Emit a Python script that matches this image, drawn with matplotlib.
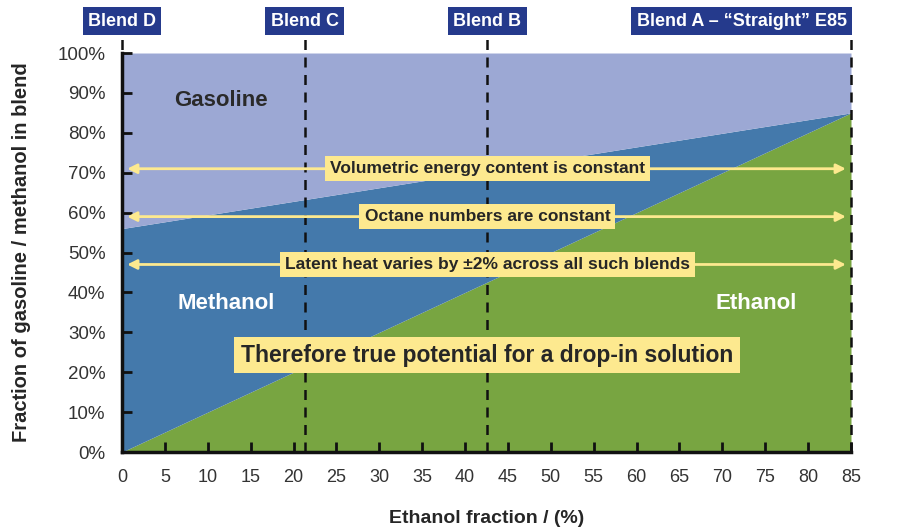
import matplotlib
matplotlib.use("Agg")
import matplotlib.pyplot as plt
import numpy as np

plt.rcParams['font.family'] = ['Liberation Sans', 'DejaVu Sans']

# ---- data ----
ethanol_x = [0, 85]
ethanol_top = [0, 85]          # ethanol share (%) -> top of green area
methanol_top = [56, 85]        # top of methanol area (%)
gasoline_top = [100, 100]
x_ticks = list(range(0, 90, 5))
y_ticks = list(range(0, 110, 10))
blend_names = ["Blend D", "Blend C", "Blend B", "Blend A – “Straight” E85"]
blend_pos = [0, 21.3, 42.6, 85]
arrow_levels = [71, 59, 47]
arrow_texts = ["Volumetric energy content is constant",
               "Octane numbers are constant",
               "Latent heat varies by ±2% across all such blends"]

C_GAS = "#9ca8d4"
C_MET = "#4479ab"
C_ETH = "#78a541"
C_NAVY = "#253a8c"
C_YEL = "#fde98f"
C_TXT = "#262626"

fig = plt.figure(figsize=(9.06, 5.27), dpi=100)
ax = fig.add_axes([0.1347, 0.1423, 0.8046, 0.7571])

x = np.array(ethanol_x)
ax.fill_between(x, 0, ethanol_top, color=C_ETH, lw=0)
ax.fill_between(x, ethanol_top, methanol_top, color=C_MET, lw=0)
ax.fill_between(x, methanol_top, gasoline_top, color=C_GAS, lw=0)

ax.set_xlim(0, 85)
ax.set_ylim(0, 100)
ax.set_xticks(x_ticks)
ax.set_xticklabels([str(v) for v in x_ticks], fontsize=13)
ax.set_yticks(y_ticks)
ax.set_yticklabels([f"{v}%" for v in y_ticks], fontsize=13.5)
ax.tick_params(axis="both", direction="in", length=7, width=2, colors="#111111", labelcolor="#333333")
ax.tick_params(axis="x", pad=12)
ax.tick_params(axis="y", pad=12)
for s in ["top", "right"]:
    ax.spines[s].set_visible(False)
for s in ["left", "bottom"]:
    ax.spines[s].set_linewidth(2.5)
    ax.spines[s].set_color("#111111")

ax.set_xlabel("Ethanol fraction / (%)", fontsize=14, fontweight="bold", color=C_TXT)
ax.xaxis.set_label_coords(0.5, -0.145)
ax.set_ylabel("Fraction of gasoline / methanol in blend", fontsize=14.5, fontweight="bold", color=C_TXT)
ax.yaxis.set_label_coords(-0.125, 0.5)

# blend lines & labels
for name, p in zip(blend_names, blend_pos):
    ax.axvline(p, ymin=0, ymax=1.04, color="#111111", lw=1.8, ls=(0, (4, 3)), clip_on=False, zorder=3)
    last = p == max(blend_pos)
    ax.annotate(name, xy=(p, 1.08), xycoords=ax.get_xaxis_transform(),
                xytext=(-3 if last else 0, 0), textcoords="offset points",
                ha="right" if last else "center", va="center",
                fontsize=13, fontweight="bold", color="white",
                bbox=dict(boxstyle="square,pad=0.3", fc=C_NAVY, ec="none"), annotation_clip=False)

# arrows
for lvl, txt in zip(arrow_levels, arrow_texts):
    ax.annotate("", xy=(0.6, lvl), xytext=(84.4, lvl),
                arrowprops=dict(arrowstyle="<|-|>", color=C_YEL, lw=2, mutation_scale=14,
                                shrinkA=0, shrinkB=0), zorder=4)
    ax.text(42.6, lvl, txt, ha="center", va="center", fontsize=12.5,
            fontweight="bold", color=C_TXT,
            bbox=dict(boxstyle="square,pad=0.3", fc=C_YEL, ec="none"), zorder=5)

ax.text(42.6, 24.3, "Therefore true potential for a drop-in solution", ha="center", va="center",
        fontsize=16.5, fontweight="bold", color=C_TXT,
        bbox=dict(boxstyle="square,pad=0.3", fc=C_YEL, ec="none"), zorder=5)

ax.text(11.5, 88.0, "Gasoline", ha="center", va="center", fontsize=16, fontweight="bold", color="#2a2a2a")
ax.text(12.1, 37.3, "Methanol", ha="center", va="center", fontsize=16, fontweight="bold", color="white")
ax.text(74, 37.3, "Ethanol", ha="center", va="center", fontsize=16, fontweight="bold", color="white")

fig.savefig("out.png", dpi=100)
